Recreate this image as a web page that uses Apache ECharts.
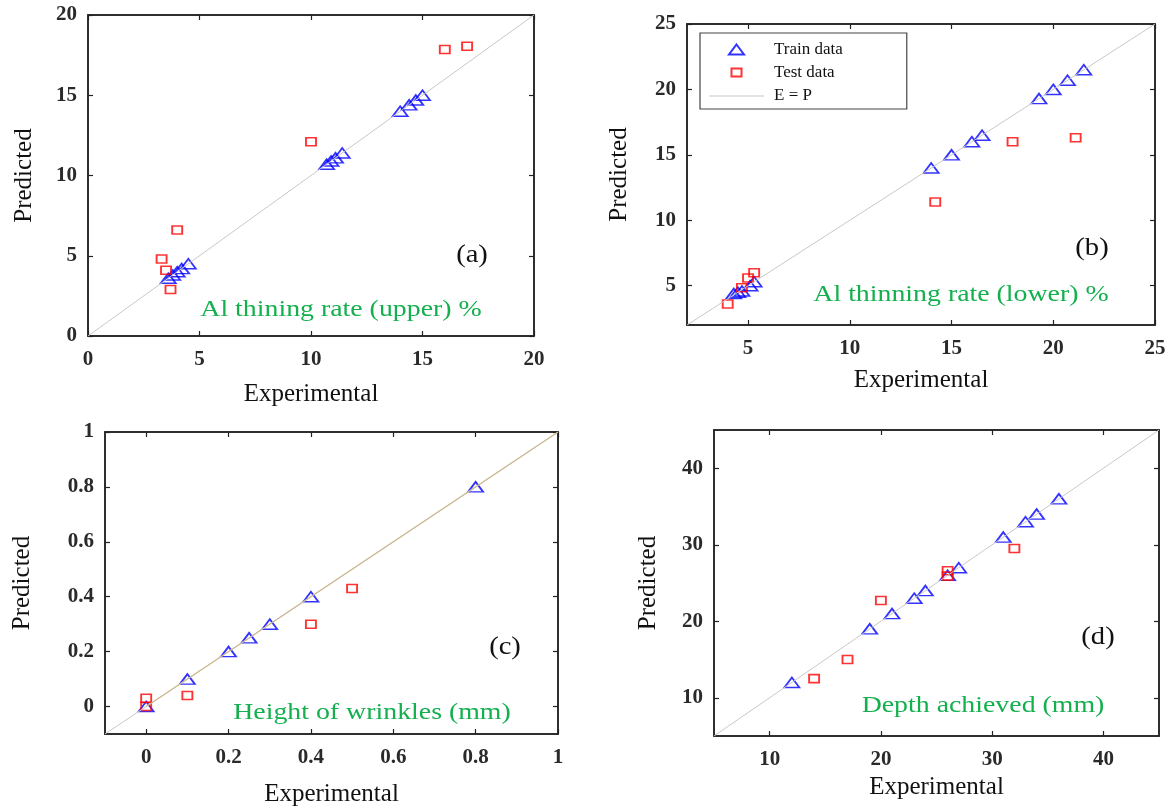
<!DOCTYPE html>
<html>
<head>
<meta charset="utf-8">
<script src="https://cdn.jsdelivr.net/npm/echarts@6/dist/echarts.min.js"></script>
<style>
  html, body { margin: 0; padding: 0; background: #fff; }
  #main { width: 1174px; height: 811px; }
</style>
</head>
<body>
<div id="main"></div>
<script>
// panel (a) Al thinning rate (upper) %
var trainA = [[3.6,3.6],[3.8,3.8],[4.0,4.0],[4.2,4.2],[4.5,4.5],[10.7,10.7],[10.9,10.9],[11.1,11.1],[11.4,11.4],[14.0,14.0],[14.4,14.4],[14.7,14.7],[15.0,15.0]]
var testA = [[3.3,4.8],[3.5,4.1],[3.7,2.9],[4.0,6.6],[10.0,12.1],[16.0,17.85],[17.0,18.05]]
var rangeA = [0, 20]
var ticksA = [0, 5, 10, 15, 20]

// panel (b) Al thinning rate (lower) %
var trainB = [[4.3,4.4],[4.5,4.5],[4.7,4.6],[5.1,5.0],[5.3,5.3],[14.0,14.0],[15.0,15.0],[16.0,16.0],[16.5,16.5],[19.3,19.3],[20.0,20.0],[20.7,20.7],[21.5,21.5]]
var testB = [[4.0,3.6],[4.7,4.85],[5.0,5.6],[5.3,6.0],[14.2,11.4],[18.0,16.0],[21.1,16.3]]
var rangeB = [2, 25]
var ticksB = [5, 10, 15, 20, 25]

// panel (c) Height of wrinkles (mm)
var trainC = [[0,0],[0.1,0.1],[0.2,0.2],[0.25,0.25],[0.3,0.3],[0.4,0.4],[0.8,0.8]]
var testC = [[0,0.03],[0,0],[0.1,0.04],[0.4,0.3],[0.5,0.43]]
var rangeC = [-0.1, 1]
var ticksC = [0, 0.2, 0.4, 0.6, 0.8, 1]
var fitC = [0, 1]

// panel (d) Depth achieved (mm)
var trainD = [[12,12],[19,19],[21,21],[23,23],[24,24],[26,26],[27,27],[31,31],[33,33],[34,34],[36,36]]
var testD = [[14,12.5],[17,15],[20,22.7],[26,26.6],[26,25.9],[32,29.5]]
var rangeD = [5, 45]
var ticksD = [10, 20, 30, 40]

var chart = echarts.init(document.getElementById('main'))

var serif = 'Liberation Serif'
var frame = '#222'
var green = '#14b04e'

var grids = [
  {left: 88, top: 15, width: 446, height: 321},
  {left: 687, top: 24, width: 468, height: 301},
  {left: 105, top: 432, width: 453, height: 302},
  {left: 714, top: 430, width: 445, height: 306},
]

var panels = [
  {range: rangeA, ticks: ticksA, train: trainA, test: testA, xGap: 46, yGap: 51},
  {range: rangeB, ticks: ticksB, train: trainB, test: testB, xGap: 43, yGap: 55},
  {range: rangeC, ticks: ticksC, train: trainC, test: testC, xGap: 48, yGap: 70},
  {range: rangeD, ticks: ticksD, train: trainD, test: testD, xGap: 39, yGap: 53},
]

function axis(i, pos, p, main) {
  var isX = pos === 'bottom' || pos === 'top'
  return {
    type: 'value',
    gridIndex: i,
    position: pos,
    min: p.range[0],
    max: p.range[1],
    splitLine: {show: false},
    axisLine: {show: true, onZero: false, lineStyle: {color: frame, width: 1.5}},
    axisTick: {show: true, inside: true, length: 5, customValues: p.ticks, lineStyle: {color: frame, width: 1.2}},
    axisLabel: {
      show: main,
      customValues: p.ticks,
      margin: isX ? 13 : 11,
      fontFamily: serif,
      fontWeight: 'bold',
      fontSize: 21,
      color: '#2a2a2a'
    },
    name: main ? (isX ? 'Experimental' : 'Predicted') : '',
    nameLocation: 'middle',
    nameGap: isX ? p.xGap : p.yGap,
    nameTextStyle: {fontFamily: serif, fontSize: 25, color: '#111'}
  }
}

var xAxes = [], yAxes = [], series = []
panels.forEach(function(p, i) {
  xAxes.push(axis(i, 'bottom', p, true))
  yAxes.push(axis(i, 'left', p, true))
})
panels.forEach(function(p, i) {
  xAxes.push(axis(i, 'top', p, false))
  yAxes.push(axis(i, 'right', p, false))
})

panels.forEach(function(p, i) {
  series.push({
    name: 'E = P',
    type: 'line',
    xAxisIndex: i,
    yAxisIndex: i,
    data: [[p.range[0], p.range[0]], [p.range[1], p.range[1]]],
    symbol: 'none',
    lineStyle: {color: '#c8c8c8', width: 1},
    itemStyle: {color: '#c8c8c8'},
    silent: true
  })
  if (i === 2) {
    series.push({
      name: 'fit',
      type: 'line',
      xAxisIndex: i,
      yAxisIndex: i,
      data: [[fitC[0], fitC[0]], [fitC[1], fitC[1]]],
      symbol: 'none',
      lineStyle: {color: '#cdb990', width: 1.2},
      silent: true
    })
  }
  series.push({
    name: 'Train data',
    type: 'scatter',
    xAxisIndex: i,
    yAxisIndex: i,
    data: p.train,
    symbol: 'triangle',
    symbolSize: [15, 10],
    itemStyle: {color: 'rgba(255,255,255,0)', borderColor: '#0000ff', borderWidth: 1.7}
  })
  series.push({
    name: 'Test data',
    type: 'scatter',
    xAxisIndex: i,
    yAxisIndex: i,
    data: p.test,
    symbol: 'rect',
    symbolSize: [10, 8],
    itemStyle: {color: 'rgba(255,255,255,0)', borderColor: '#ff0000', borderWidth: 1.7}
  })
})

// annotation text: [text, x, y, size, colour, horizontal stretch]
var notes = [
  ['(a)', 472, 255, 26, '#111', 1.1],
  ['Al thining rate (upper) %', 341, 310, 24, green, 1.16],
  ['(b)', 1092, 248, 26, '#111', 1.1],
  ['Al thinning rate (lower) %', 961, 295, 24, green, 1.16],
  ['(c)', 505, 647, 26, '#111', 1.1],
  ['Height of wrinkles (mm)', 372, 713, 24, green, 1.16],
  ['(d)', 1098, 637, 26, '#111', 1.1],
  ['Depth achieved (mm)', 983, 706, 24, green, 1.16],
]

var option = {
  animation: false,
  grid: grids.map(function(g) {
    return Object.assign({show: true, borderColor: frame, borderWidth: 1.5, backgroundColor: '#fff'}, g)
  }),
  xAxis: xAxes,
  yAxis: yAxes,
  legend: {
    data: [
      {name: 'Train data', icon: 'path://M0,0M55,12M27.5,1L35,11L20,11Z'},
      {name: 'Test data', icon: 'path://M0,0M55,12M22.5,2H32.5V10H22.5Z'},
      {name: 'E = P', icon: 'path://M0,0M55,12M0,6H55V7H0Z'}
    ],
    orient: 'vertical',
    left: 700,
    top: 33,
    itemWidth: 55,
    itemHeight: 12,
    itemGap: 6,
    padding: [8, 64, 5, 8],
    borderColor: '#444',
    borderWidth: 1.2,
    backgroundColor: '#fff',
    textStyle: {fontFamily: serif, fontSize: 17, color: '#111', padding: [0, 0, 0, 5]},
    selectedMode: false
  },
  series: series,
  graphic: notes.map(function(n) {
    return {
      type: 'text',
      x: n[1],
      y: n[2],
      scaleX: n[5],
      z: 100,
      style: {text: n[0], font: n[3] + 'px "' + serif + '"', fill: n[4], align: 'center', verticalAlign: 'middle'}
    }
  })
}

chart.setOption(option)
</script>
</body>
</html>
